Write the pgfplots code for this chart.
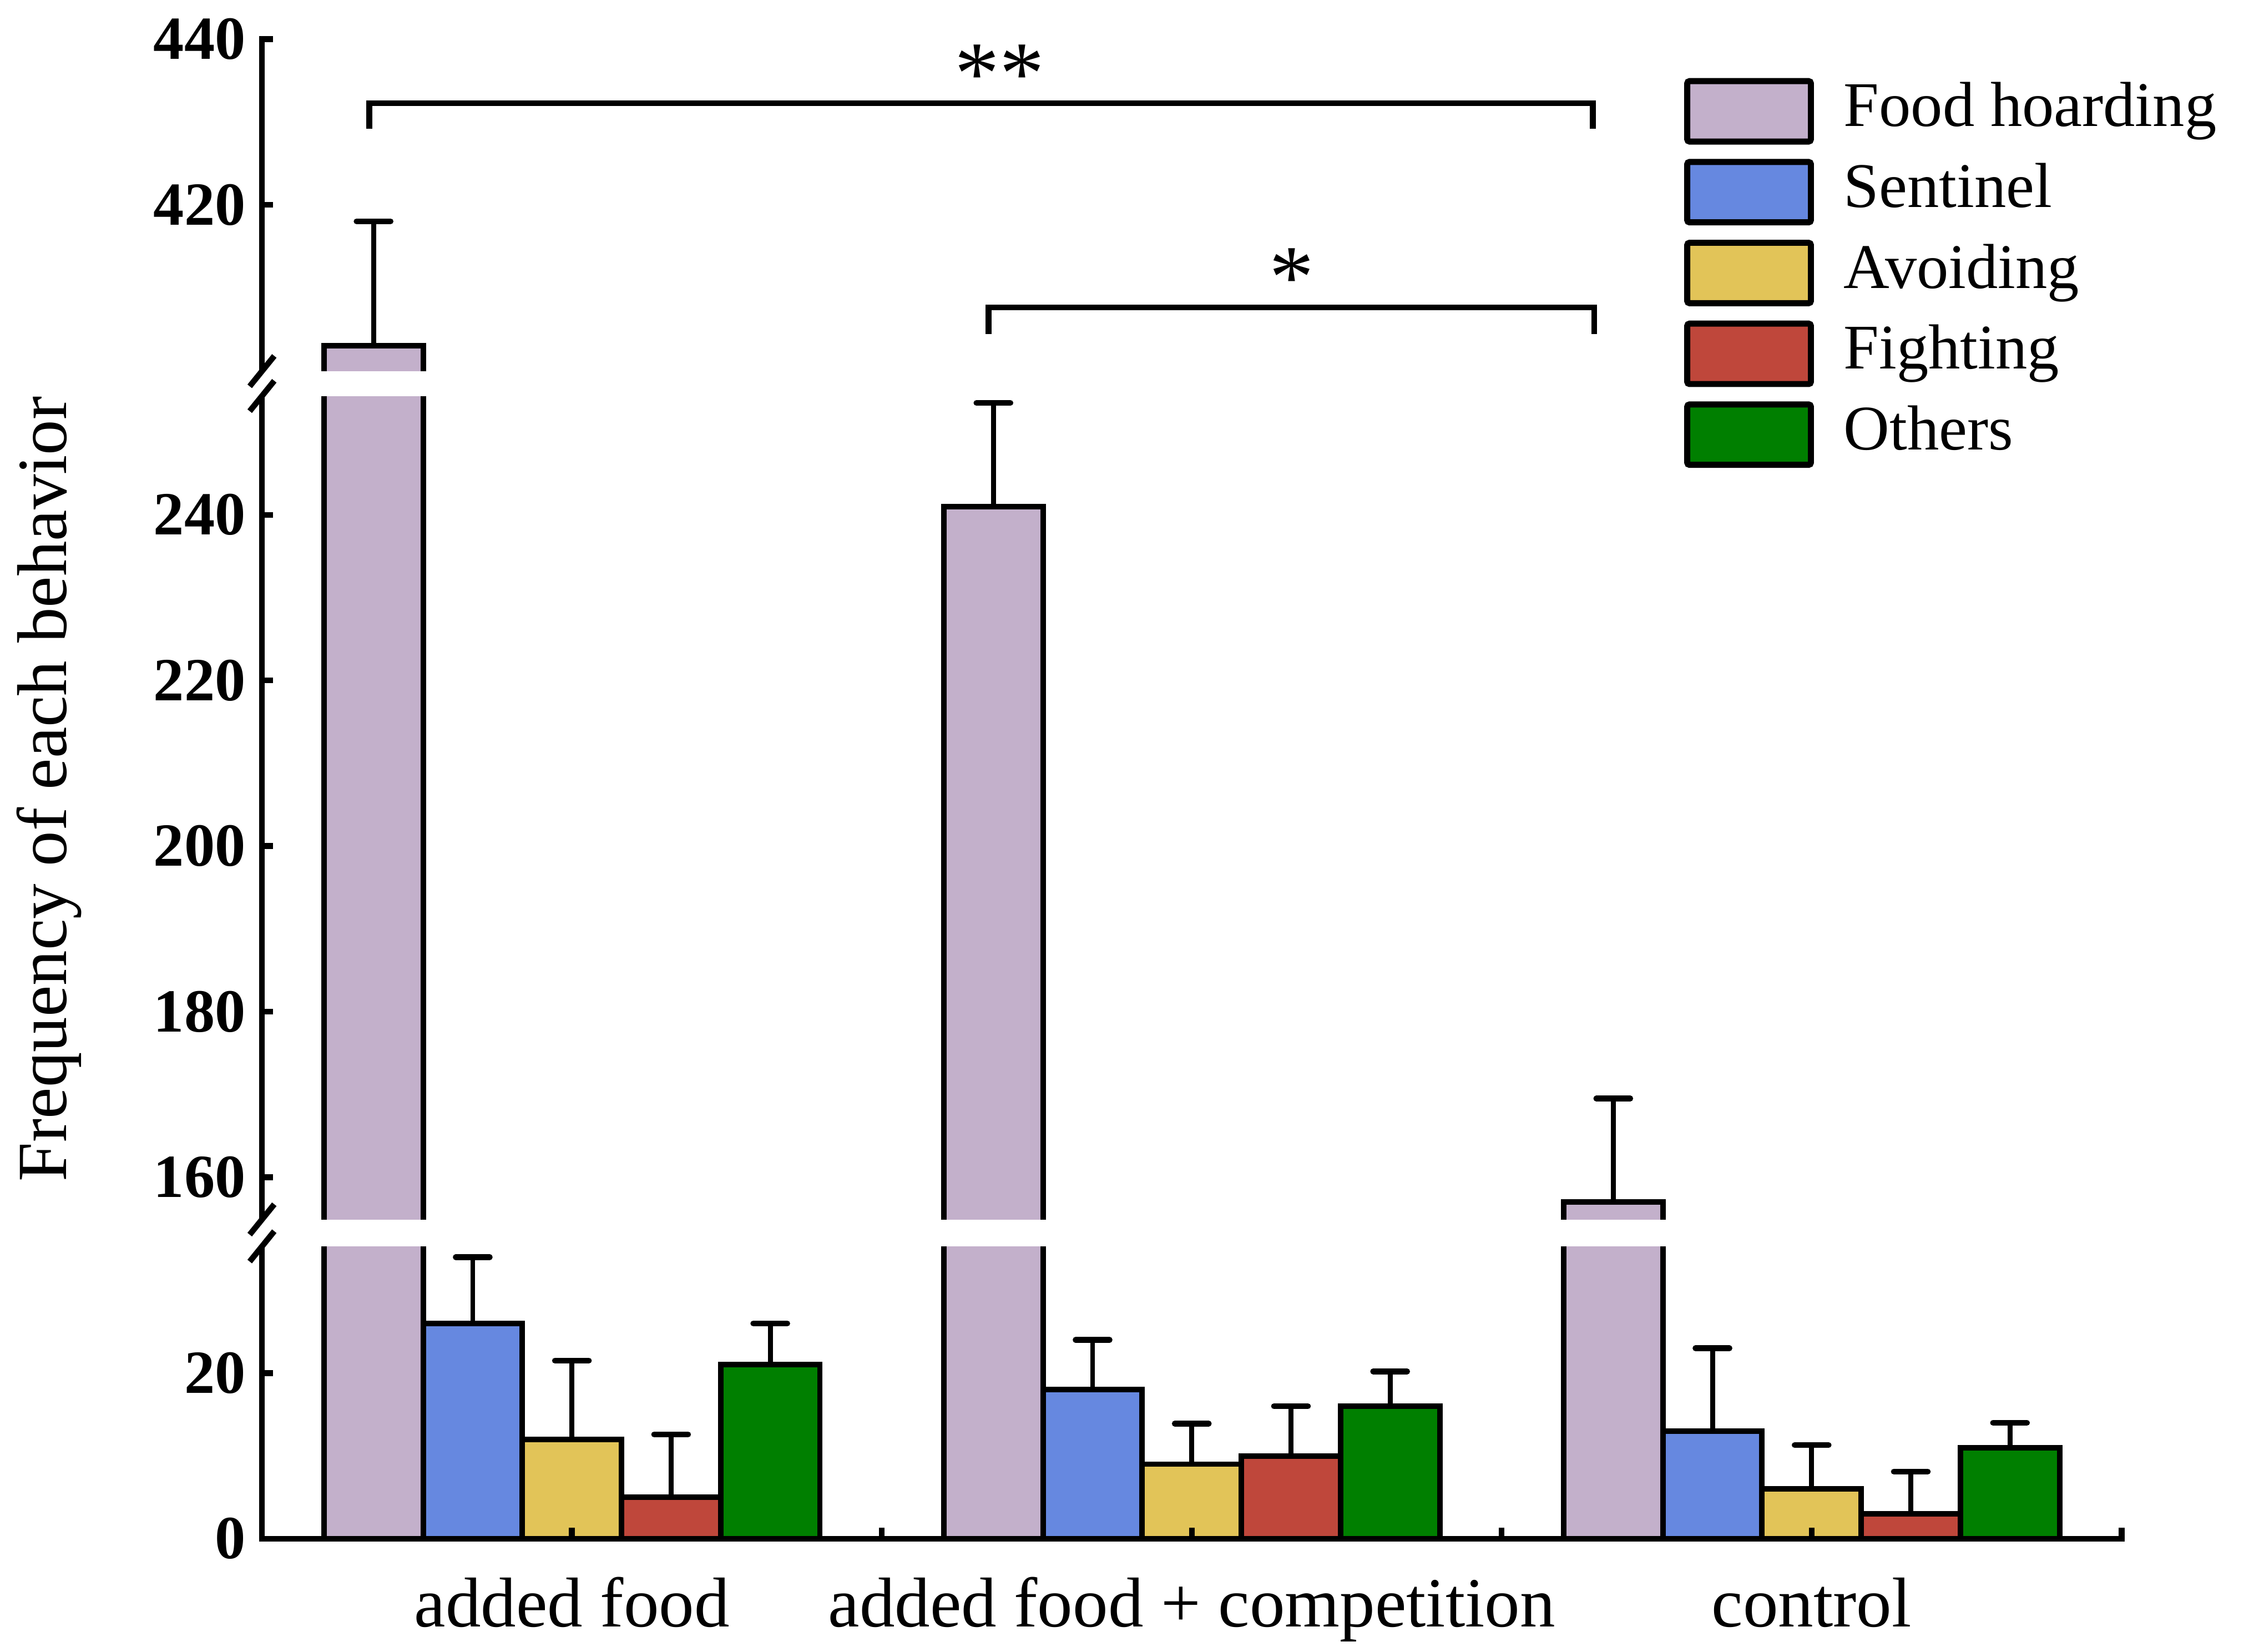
\documentclass[border=0pt]{standalone}
\usepackage{fontspec}
\setmainfont{Liberation Serif}
\usepackage{pgfplots}
\pgfplotsset{compat=1.18}
\usetikzlibrary{calc}

\definecolor{hoard}{RGB}{195,176,203}
\definecolor{senti}{RGB}{102,136,224}
\definecolor{avoid}{RGB}{226,196,88}
\definecolor{fight}{RGB}{191,71,59}
\definecolor{other}{RGB}{0,127,0}

\newcommand{\lgd}[1]{\raisebox{1.85pt}[0pt][0pt]{#1}}

\begin{document}
\begin{tikzpicture}
\begin{axis}[
  at={(0,0)}, anchor=south west,
  scale only axis,
  width=321.75pt, height=259.45pt,
  xmin=-0.5, xmax=2.5,
  ymin=0, ymax=440,
  % broken y axis: 0-35 | 155-254 | 400-440
  y coord trafo/.code={\begingroup
    \pgfkeys{/pgf/fpu=true,/pgf/fpu/output format=fixed}%
    \pgfmathparse{ifthenelse(#1<100,#1,ifthenelse(#1<330,#1-116.35,#1-258.9))}%
    \xdef\brkres{\pgfmathresult}\endgroup\let\pgfmathresult\brkres},
  axis lines*=left,
  axis line style={line width=1pt, line cap=rect},
  axis on top,
  clip=false,
  tick align=inside,
  major tick length=1.9pt,
  tick style={line width=1pt, black},
  xtick style={draw=none},
  xtick={0,1,2},
  xticklabels={added food,added food + competition,control},
  xticklabel style={font=\fontsize{12.2}{14}\selectfont, anchor=base, yshift=-13.35pt, inner sep=0pt},
  ytick={0,20,160,180,200,220,240,420,440},
  yticklabels={0,20,160,180,200,220,240,420,440},
  yticklabel style={font=\fontsize{10.6}{12}\selectfont\bfseries, inner sep=0pt, xshift=-2.65pt},
  ylabel={Frequency of each behavior},
  ylabel style={font=\fontsize{12.2}{14}\selectfont, at={(axis description cs:-0.10521,0.5)}, anchor=base},
  ybar, bar width=0.16,
  every axis plot/.append style={draw=black, line width=0.95pt,
    error bars/y dir=plus, error bars/y explicit,
    error bars/error bar style={line width=0.85pt, black},
    error bars/error mark options={rotate=90, line width=1pt, black, mark size=2.94pt, line cap=round}},
  legend image code/.code={
    \draw[#1, line width=1.05pt, rounded corners=0.4pt] (0pt,0pt) rectangle (21.4pt,10.45pt);
    \path[draw=none, fill=none] (0pt,0pt) rectangle (27.1pt,10.45pt);},
  legend cell align=left,
  legend style={draw=none, fill=none, inner sep=0pt, outer sep=0pt,
    at={(0.7648,0.974)}, anchor=north west, row sep=2.26pt,
    nodes={inner sep=0pt}, font=\fontsize{11}{13}\selectfont},
]
\addplot[fill=hoard, bar shift=-0.32] coordinates {(0,403) +- (0,15) (1,241) +- (0,12.5) (2,157) +- (0,12.5)};
\addplot[fill=senti, bar shift=-0.16] coordinates {(0,26) +- (0,8) (1,18) +- (0,6) (2,13) +- (0,10)};
\addplot[fill=avoid, bar shift=0] coordinates {(0,12) +- (0,9.5) (1,9) +- (0,4.9) (2,6) +- (0,5.3)};
\addplot[fill=fight, bar shift=0.16] coordinates {(0,5) +- (0,7.6) (1,10) +- (0,6) (2,3) +- (0,5.1)};
\addplot[fill=other, bar shift=0.32] coordinates {(0,21) +- (0,5) (1,16) +- (0,4.2) (2,11) +- (0,3)};
\legend{\lgd{Food hoarding}, \lgd{Sentinel}, \lgd{Avoiding}, \lgd{Fighting}, \lgd{Others}}

% inward x ticks at group centres and group borders
\pgfplotsinvokeforeach{0,0.5,1,1.5,2,2.5}{
  \draw[line width=1pt] (axis cs:#1,0) -- ++(0pt,1.9pt);}

% significance brackets
\draw[line width=1pt] (axis cs:-0.327,429.2) -- (axis cs:-0.327,432.25) -- (axis cs:1.647,432.25) -- (axis cs:1.647,429.2);
\draw[line width=1pt] (axis cs:0.672,404.4) -- (axis cs:0.672,407.6) -- (axis cs:1.649,407.6) -- (axis cs:1.649,404.4);
\node[anchor=base, inner sep=0pt, font=\fontsize{15.5}{17}\selectfont] at (axis cs:0.69,432.25) {**};
\node[anchor=base, inner sep=0pt, font=\fontsize{15.5}{17}\selectfont] at (axis cs:1.161,407.6) {*};

\coordinate (O) at (rel axis cs:0,0);
\coordinate (g1b) at (rel axis cs:-0.006,0.19492);
\coordinate (g1t) at (rel axis cs:0.7605,0.21287);
\coordinate (g2b) at (rel axis cs:-0.006,0.76201);
\coordinate (g2t) at (rel axis cs:0.0925,0.77858);
\coordinate (s1) at (rel axis cs:0,0.19492);
\coordinate (s2) at (rel axis cs:0,0.21287);
\coordinate (s3) at (rel axis cs:0,0.76201);
\coordinate (s4) at (rel axis cs:0,0.77858);
\end{axis}
% white gaps of the broken axis and the break marks
\fill[white] (g1b) rectangle (g1t);
\fill[white] (g2b) rectangle (g2t);
\foreach \p in {s1,s2,s3,s4}
  \draw[line width=1pt] ($(\p)+(-2.125pt,-2.625pt)$) -- ($(\p)+(2.125pt,2.625pt)$);
\pgfresetboundingbox
\path[use as bounding box] ($(O)+(-45.33pt,-19.53pt)$) rectangle ($(O)+(344.67pt,266.22pt)$);
\end{tikzpicture}
\end{document}
